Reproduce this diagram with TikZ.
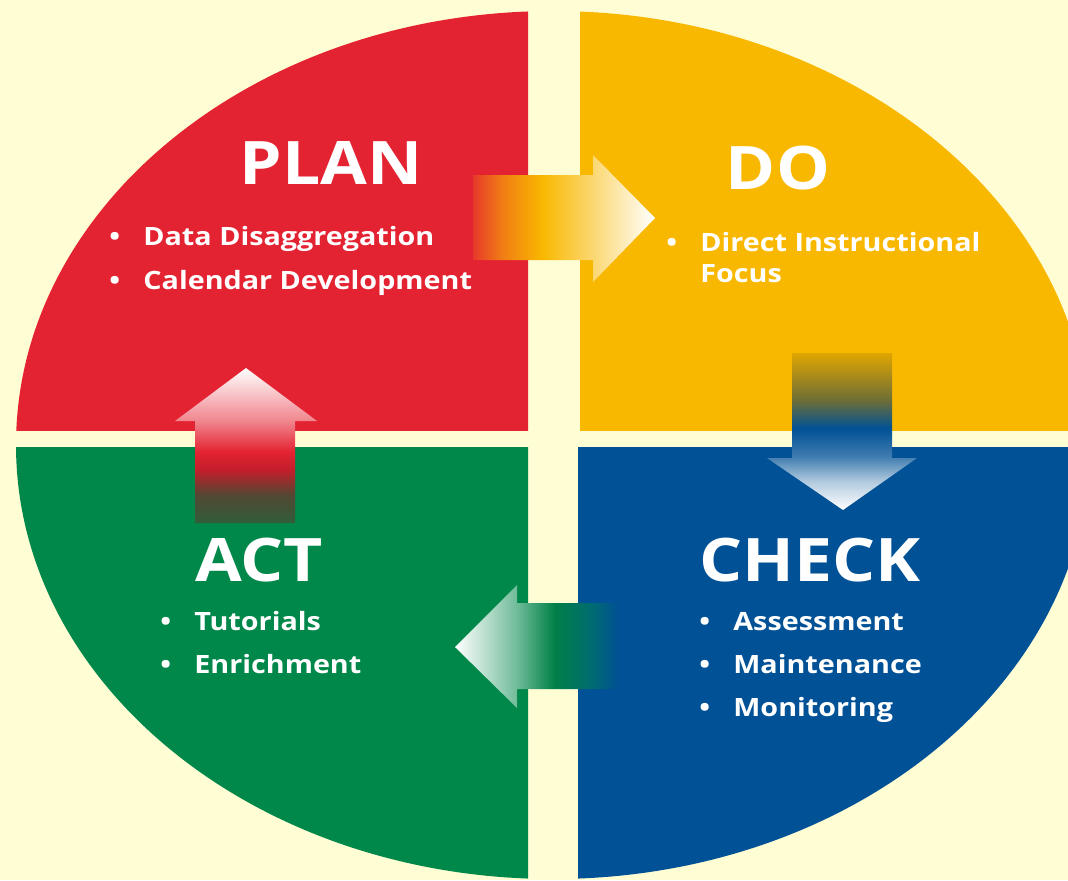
\documentclass[tikz,border=0pt]{standalone}
\usepackage{fontspec}
\setmainfont{Open Sans}
\newfontfamily\titlefont[FakeStretch=1.13]{Open Sans}
\newfontfamily\itemfont[FakeStretch=1.14]{Open Sans}
\usepackage{tikz}
\definecolor{bg}{RGB}{255,253,212}
\definecolor{qred}{RGB}{228,35,50}
\definecolor{qyellow}{RGB}{249,184,0}
\definecolor{qblue}{RGB}{0,81,149}
\definecolor{qgreen}{RGB}{0,135,74}
\pgfdeclarehorizontalshading{shPlanDo}{100bp}{color(0bp)=(qred); color(25bp)=(qred!85!qyellow); color(33bp)=(qred!40!qyellow); color(44bp)=(qyellow); color(58bp)=(qyellow!55!white); color(75bp)=(white); color(100bp)=(white)}
\pgfdeclareverticalshading{shDoCheck}{100bp}{color(0bp)=(white); color(25bp)=(white); color(34bp)=(qblue!30!white); color(42bp)=(qblue!75!white); color(51bp)=(qblue); color(60bp)=(qblue!45!qyellow!80!black); color(75bp)=(qyellow!90!black); color(100bp)=(qyellow!90!black)}
\pgfdeclarehorizontalshading{shCheckAct}{100bp}{color(0bp)=(white); color(25bp)=(white); color(42bp)=(qgreen!55!white); color(53bp)=(qgreen!95!black); color(63bp)=(qgreen!50!qblue); color(71bp)=(qblue); color(100bp)=(qblue)}
\pgfdeclareverticalshading{shActPlan}{100bp}{color(0bp)=(qgreen!75!qred!85!black); color(25bp)=(qgreen!75!qred!85!black); color(34bp)=(qred!45!qgreen!80!black); color(42bp)=(qred!85!black); color(48bp)=(qred); color(58bp)=(qred!55!white); color(75bp)=(white); color(100bp)=(white)}
\newcommand{\bul}{\makebox[17pt][l]{\textbullet}}
\tikzset{
  title/.style={text=white, font=\titlefont\bfseries\fontsize{30}{36}\selectfont, inner sep=0pt},
  item/.style={anchor=base west, text=white, font=\itemfont\bfseries\fontsize{12.6}{15}\selectfont, inner sep=0pt}
}
\begin{document}
\begin{tikzpicture}[x=0.5pt, y=-0.5pt]
 	\fill[bg] (0,0) rectangle (1068,880);
 	\begin{scope}
 	\clip (0,0) rectangle (528,430);
 	\fill[qred] (553,445) ellipse [x radius=268.5pt, y radius=217pt];
 	\end{scope}
 	\begin{scope}
 	\clip (580,0) rectangle (1068,430);
 	\fill[qyellow] (553,445) ellipse [x radius=268.5pt, y radius=217pt];
 	\end{scope}
 	\begin{scope}
 	\clip (0,447) rectangle (528,880);
 	\fill[qgreen] (553,445) ellipse [x radius=268.5pt, y radius=217pt];
 	\end{scope}
 	\begin{scope}
 	\clip (578,447) rectangle (1068,880);
 	\fill[qblue] (553,445) ellipse [x radius=268.5pt, y radius=217pt];
 	\end{scope}
 	\shade[shading=shPlanDo] (473,175)--(593,175)--(593,155)--(655,218)--(593,282)--(593,260)--(473,260)--cycle;
 	\shade[shading=shDoCheck] (792,353)--(892,353)--(892,458)--(917,458)--(843,510)--(767,458)--(792,458)--cycle;
 	\shade[shading=shCheckAct] (633,603)--(517,603)--(517,585)--(455,647)--(517,708)--(517,689)--(633,689)--cycle;
 	\shade[shading=shActPlan] (195,523)--(195,421)--(175,421)--(246,368)--(317,421)--(295,421)--(295,523)--cycle;
 	\node[title] (plan) at (331,163) {PLAN};
 	\node[title] (do) at (778,168) {DO};
 	\node[title] (act) at (259,560) {ACT};
 	\node[title] (check) at (810,560) {CHECK};
 	\node[item] (plan1) at (109,245) {\bul Data Disaggregation};
 	\node[item] (plan2) at (109,289) {\bul Calendar Development};
 	\node[item] (do1) at (666,251) {\bul Direct Instructional};
 	\node[item] (do2) at (700,282) {Focus};
 	\node[item] (act1) at (160,630) {\bul Tutorials};
 	\node[item] (act2) at (160,673) {\bul Enrichment};
 	\node[item] (check1) at (699,630) {\bul Assessment};
 	\node[item] (check2) at (699,673) {\bul Maintenance};
 	\node[item] (check3) at (699,716) {\bul Monitoring};
\end{tikzpicture}
\end{document}
